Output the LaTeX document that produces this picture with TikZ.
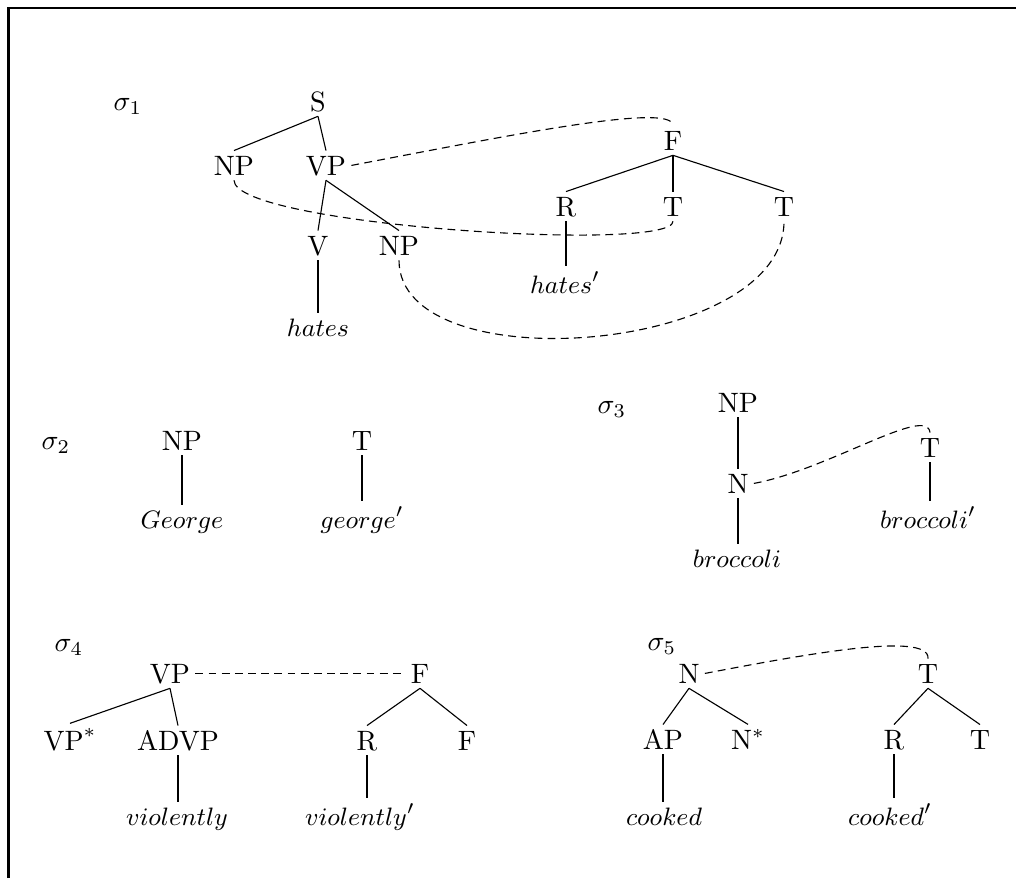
\documentclass[tikz,border=0pt]{standalone}
\begin{document}
\begin{tikzpicture}[x=0.357pt,y=0.357pt,
  lab/.style={anchor=base,inner sep=1.7pt},
  wrd/.style={anchor=base,inner sep=1.7pt,font=\fontsize{9.5}{11}\selectfont},
  tie/.style={dash pattern=on 2.8pt off 1.9pt},
  branch/.style={line width=0.4pt}]
\useasboundingbox (0,0) rectangle (1016,-878);
% frame
\draw[line width=0.9pt] (8.7,-878) |- (1016,-7.8);

% ---------- sigma 1 ----------
\node[lab] (g1) at (128,-110) {$\sigma_1$};
\node[lab] (a-s) at (318,-111) {$\mathrm{S}$};
\node[lab] (a-np) at (234,-175) {$\mathrm{NP}$};
\node[lab] (a-vp) at (326,-175) {$\mathrm{VP}$};
\node[lab] (a-v) at (318,-255) {$\mathrm{V}$};
\node[lab] (a-np2) at (399,-255) {$\mathrm{NP}$};
\node[wrd] (a-w) at (318,-336) {$hates$};
\node[lab] (a-f) at (673,-150) {$\mathrm{F}$};
\node[lab] (a-r) at (566,-216) {$\mathrm{R}$};
\node[lab] (a-t1) at (673,-216) {$\mathrm{T}$};
\node[lab] (a-t2) at (784,-216) {$\mathrm{T}$};
\node[wrd] (a-w2) at (565,-293) {$hates'$};

\draw[branch] (a-s.south) -- (a-np.north);
\draw[branch] (a-s.south) -- (a-vp.north);
\draw[branch] (a-vp.south) -- (a-v.north);
\draw[branch] (a-vp.south) -- (a-np2.north);
\draw[branch] (a-v.south) -- (a-v.south |- a-w.north);
\draw[branch] (a-f.south) -- (a-r.north);
\draw[branch] (a-f.south) -- (a-t1.north);
\draw[branch] (a-f.south) -- (a-t2.north);
\draw[branch] (a-r.south) -- (a-r.south |- a-w2.north);

\draw[tie] (a-vp.east) .. controls +(148,28) and +(0,24) .. (a-f.north);
\draw[tie] (a-np.south) .. controls +(0,-45) and +(0,-32) .. (a-t1.south);
\draw[tie] (a-np2.south) .. controls +(0,-123) and +(0,-133) .. (a-t2.south);

% ---------- sigma 2 ----------
\node[lab] (g2) at (56,-449) {$\sigma_2$};
\node[lab] (b-np) at (182,-450) {$\mathrm{NP}$};
\node[wrd] (b-w) at (182,-528) {$George$};
\node[lab] (b-t) at (362,-450) {$\mathrm{T}$};
\node[wrd] (b-w2) at (362,-528) {$george'$};
\draw[branch] (b-np.south) -- (b-np.south |- b-w.north);
\draw[branch] (b-t.south) -- (b-t.south |- b-w2.north);

% ---------- sigma 3 ----------
\node[lab] (g3) at (612,-413) {$\sigma_3$};
\node[lab] (c-np) at (738,-412) {$\mathrm{NP}$};
\node[lab] (c-n) at (738,-493) {$\mathrm{N}$};
\node[wrd] (c-w) at (737,-567) {$broccoli$};
\node[lab] (c-t) at (930,-457) {$\mathrm{T}$};
\node[wrd] (c-w2) at (928,-528) {$broccoli'$};
\draw[branch] (c-np.south) -- (c-n.north);
\draw[branch] (c-n.south) -- (c-n.south |- c-w.north);
\draw[branch] (c-t.south) -- (c-t.south |- c-w2.north);
\draw[tie] (c-n.east) .. controls +(75,14) and +(-3,28) .. (c-t.north);

% ---------- sigma 4 ----------
\node[lab] (g4) at (69,-651) {$\sigma_4$};
\node[lab] (d-vp) at (170,-683) {$\mathrm{VP}$};
\node[lab] (d-vps) at (70,-750) {$\mathrm{VP}^*$};
\node[lab] (d-adv) at (178,-750) {$\mathrm{ADVP}$};
\node[wrd] (d-w) at (177,-825) {$violently$};
\node[lab] (d-f) at (420,-683) {$\mathrm{F}$};
\node[lab] (d-r) at (367,-750) {$\mathrm{R}$};
\node[lab] (d-f2) at (467,-750) {$\mathrm{F}$};
\node[wrd] (d-w2) at (360,-825) {$violently'$};
\draw[branch] (d-vp.south) -- (d-vps.north);
\draw[branch] (d-vp.south) -- (d-adv.north);
\draw[branch] (d-adv.south) -- (d-adv.south |- d-w.north);
\draw[branch] (d-f.south) -- (d-r.north);
\draw[branch] (d-f.south) -- (d-f2.north);
\draw[branch] (d-r.south) -- (d-r.south |- d-w2.north);
\draw[tie] (d-vp.east) -- (d-f.west);

% ---------- sigma 5 ----------
\node[lab] (g5) at (662,-650) {$\sigma_5$};
\node[lab] (e-n) at (689,-683) {$\mathrm{N}$};
\node[lab] (e-ap) at (663,-749) {$\mathrm{AP}$};
\node[lab] (e-ns) at (748,-749) {$\mathrm{N}^*$};
\node[wrd] (e-w) at (664,-825) {$cooked$};
\node[lab] (e-t) at (928,-683) {$\mathrm{T}$};
\node[lab] (e-r) at (894,-749) {$\mathrm{R}$};
\node[lab] (e-t2) at (980,-749) {$\mathrm{T}$};
\node[wrd] (e-w2) at (890,-825) {$cooked'$};
\draw[branch] (e-n.south) -- (e-ap.north);
\draw[branch] (e-n.south) -- (e-ns.north);
\draw[branch] (e-ap.south) -- (e-ap.south |- e-w.north);
\draw[branch] (e-t.south) -- (e-r.north);
\draw[branch] (e-t.south) -- (e-t2.north);
\draw[branch] (e-r.south) -- (e-r.south |- e-w2.north);
\draw[tie] (e-n.east) .. controls +(95,18) and +(2,28) .. (e-t.north);
\end{tikzpicture}
\end{document}
